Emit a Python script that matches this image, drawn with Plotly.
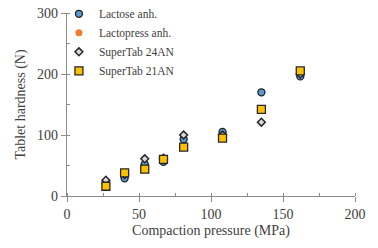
import plotly.graph_objects as go

pressure = [27, 40, 54, 67, 81, 108, 135, 162]
lactose_anh = [21, 29, 52, 56, 93, 105, 170, 196]
lactopress_anh = [17, 37, 45, 60, 81, 96, 142, 203]
supertab_24an = [26, 35, 61, 62, 100, 100, 121, 200]
supertab_21an = [16, 38, 44, 60, 80, 95, 142, 205]

x_ticks = [0, 50, 100, 150, 200]
y_ticks = [0, 100, 200, 300]

fig = go.Figure()
fig.add_trace(go.Scatter(x=pressure, y=lactopress_anh, mode="markers", name="Lactopress anh.", legendrank=2,
                         marker=dict(symbol="circle", size=7, color="#ed7d31", line=dict(width=0))))
fig.add_trace(go.Scatter(x=pressure, y=lactose_anh, mode="markers", name="Lactose anh.", legendrank=1,
                         marker=dict(symbol="circle", size=7, color="#5b9bd5", line=dict(width=1.3, color="#1f1f1f"))))
fig.add_trace(go.Scatter(x=pressure, y=supertab_24an, mode="markers", name="SuperTab 24AN", legendrank=3,
                         marker=dict(symbol="diamond", size=6, color="#d9d9d9", line=dict(width=1.5, color="#262626"))))
fig.add_trace(go.Scatter(x=pressure, y=supertab_21an, mode="markers", name="SuperTab 21AN", legendrank=4,
                         marker=dict(symbol="square", size=8, color="#ffc000", line=dict(width=1.3, color="#262626"))))

axis_common = dict(showgrid=False, zeroline=False, automargin=False,
                   showline=True, linecolor="#8c8c8c", linewidth=1.2,
                   ticks="outside", ticklen=5, tickcolor="#8c8c8c", tickwidth=1,
                   tickfont=dict(size=14, color="#404040"))

fig.update_layout(
    width=378, height=248,
    margin=dict(l=67, r=23, t=13, b=52, autoexpand=False),
    paper_bgcolor="white", plot_bgcolor="white",
    font=dict(family="Liberation Serif", size=13, color="#404040"),
    showlegend=True,
    legend=dict(x=-0.028, y=1.075, xanchor="left", yanchor="top", bgcolor="rgba(0,0,0,0)",
                font=dict(size=11.5, color="#404040"), itemwidth=30, tracegroupgap=0,
                traceorder="normal"),
    xaxis=dict(range=[0, 200], tickvals=x_ticks,
               minor=dict(dtick=25, ticks="inside", ticklen=3, tickcolor="#8c8c8c", showgrid=False),
               title=dict(text="Compaction pressure (MPa)", standoff=4, font=dict(size=14, color="#404040")),
               **axis_common),
    yaxis=dict(range=[0, 300], tickvals=y_ticks,
               minor=dict(dtick=50, ticks="inside", ticklen=3, tickcolor="#8c8c8c", showgrid=False),
               title=dict(text="Tablet hardness (N)", standoff=8, font=dict(size=14, color="#404040")),
               **axis_common),
)

fig.write_html("out.html", config={"displayModeBar": False},
               post_script="document.body.style.margin='0';")
